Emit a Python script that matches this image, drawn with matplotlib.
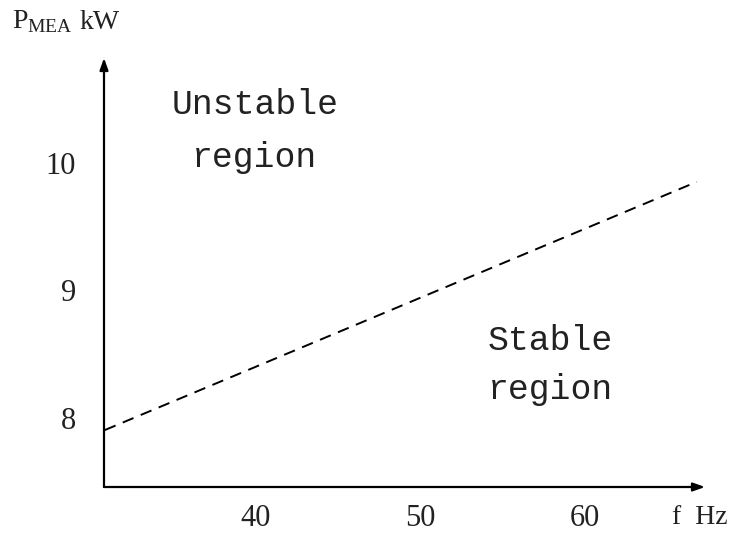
import matplotlib
matplotlib.use("Agg")
import matplotlib.pyplot as plt

# data
x_ticks = [40, 50, 60]
y_ticks = [8, 9, 10]
boundary_f = [30.85, 66.8]
boundary_p = [7.906, 9.85]

fig = plt.figure(figsize=(7.36, 5.33), dpi=100)
W, H = 736, 533
x0, x1 = 104, 705
y0, y1 = 487, 58
ax = fig.add_axes([x0 / W, 1 - y0 / H, (x1 - x0) / W, (y0 - y1) / H])
ax.set_xlim(30.8, 67.3)
ax.set_ylim(7.46, 10.82)
for s in ax.spines.values():
    s.set_visible(False)

ax.annotate("", xy=(1, 0), xytext=(0, 0), xycoords="axes fraction",
            arrowprops=dict(arrowstyle="-|>,head_length=0.7,head_width=0.25", lw=1.6, color="black",
                            shrinkA=0, shrinkB=0))
ax.annotate("", xy=(0, 1), xytext=(0, 0), xycoords="axes fraction",
            arrowprops=dict(arrowstyle="-|>,head_length=0.7,head_width=0.25", lw=1.6, color="black",
                            shrinkA=0, shrinkB=0))

ax.plot(boundary_f, boundary_p, linestyle=(0, (6, 4)), color="black", lw=1.4)

ax.set_xticks(x_ticks)
ax.set_yticks(y_ticks)
ax.tick_params(length=0, labelsize=22, pad=0)
for lab in ax.get_xticklabels() + ax.get_yticklabels():
    lab.set_fontfamily("Liberation Serif")
    lab.set_color("#222222")
ax.tick_params(axis="x", pad=12)
ax.tick_params(axis="y", pad=20)

mono = "Liberation Mono"
fig.text(255 / W, 1 - 105 / H, "Unstable", fontsize=25, family=mono, ha="center", va="center", color="#222222")
fig.text(255 / W, 1 - 158 / H, "region", fontsize=25, family=mono, ha="center", va="center", color="#222222")
fig.text(550 / W, 1 - 340 / H, "Stable", fontsize=25, family=mono, ha="center", va="center", color="#222222")
fig.text(550 / W, 1 - 390 / H, "region", fontsize=25, family=mono, ha="center", va="center", color="#222222")

fig.text(12 / W, 1 - 22 / H, r"P$_{\mathregular{MEA}}$", fontsize=20, family="Liberation Serif",
         ha="left", va="center", color="#222222")
fig.text(80 / W, 1 - 22 / H, "kW", fontsize=20, family="Liberation Serif",
         ha="left", va="center", color="#222222")
fig.text(672 / W, 1 - 517 / H, "f  Hz", fontsize=20, family="Liberation Serif",
         ha="left", va="center", color="#222222")

fig.savefig("out.png", dpi=100)
